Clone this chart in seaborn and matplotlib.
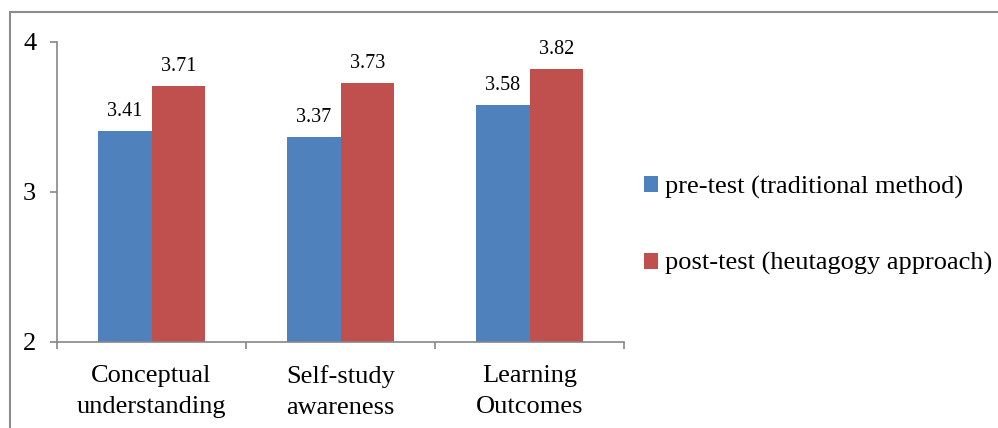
import matplotlib
matplotlib.use("Agg")
import matplotlib.pyplot as plt
import seaborn as sns
import pandas as pd
from matplotlib.patches import Rectangle, Patch

categories = ["Conceptual\nunderstanding", "Self-study\nawareness", "Learning\nOutcomes"]
series_names = ["pre-test (traditional method)", "post-test (heutagogy approach)"]
pre_values = [3.41, 3.37, 3.58]
post_values = [3.71, 3.73, 3.82]
y_ticks = [2, 3, 4]
colors = ["#4F81BD", "#C0504D"]

df = pd.DataFrame({
    "category": categories * 2,
    "series": [series_names[0]] * 3 + [series_names[1]] * 3,
    "value": pre_values + post_values,
})

sns.set_theme(style="white")
plt.rcParams["font.family"] = ["Liberation Serif", "DejaVu Serif"]
plt.rcParams["text.color"] = "black"

fig = plt.figure(figsize=(9.98, 4.28), dpi=100)
ax = fig.add_axes([57 / 998, 1 - 342 / 428, (624 - 57) / 998, 300 / 428])

sns.barplot(data=df, x="category", y="value", hue="series", palette=colors,
            width=0.57, ax=ax, linewidth=0, legend=False, errorbar=None,
            saturation=1)

for cont in ax.containers:
    ax.bar_label(cont, labels=[f"{v:.2f}" for v in cont.datavalues],
                 padding=7, fontsize=14.5, color="black")

ax.set_ylim(2, 4)
ax.set_xlim(-0.5, 2.5)
ax.set_yticks(y_ticks)
ax.set_yticklabels([str(t) for t in y_ticks], fontsize=19, color="black")
ax.set_xticks([-0.5, 0.5, 1.5, 2.5])
ax.set_xticklabels([])
ax.set_xticks([0, 1, 2], minor=True)
ax.set_xticklabels(categories, minor=True, fontsize=19, color="black",
                   linespacing=1.52)
ax.tick_params(axis="x", which="major", length=5, width=1.2, color="#868686", direction="out", bottom=True)
ax.tick_params(axis="x", which="minor", length=0, pad=16.5, bottom=True)
ax.tick_params(axis="y", length=5, width=1.2, color="#868686", direction="out", pad=10, left=True)
ax.set_xlabel("")
ax.set_ylabel("")
for s in ["top", "right"]:
    ax.spines[s].set_visible(False)
for s in ["left", "bottom"]:
    ax.spines[s].set_color("#868686")
    ax.spines[s].set_linewidth(1.2)
ax.grid(False)

handles = [Patch(facecolor=c, edgecolor="none") for c in colors]
fig.legend(handles, series_names, loc="upper left",
           bbox_to_anchor=(633 / 998, 1 - 165 / 428), frameon=False,
           fontsize=19, handlelength=0.55, handleheight=0.55,
           handletextpad=0.25, labelspacing=2.03, borderaxespad=0,
           labelcolor="black")

fig.patches.append(Rectangle((9.5 / 998, -0.1), 1.2, (1 - 12 / 428) + 0.1,
                             transform=fig.transFigure, fill=False,
                             edgecolor="#8c8c8c", linewidth=1.5))

fig.savefig("out.png", dpi=100)
